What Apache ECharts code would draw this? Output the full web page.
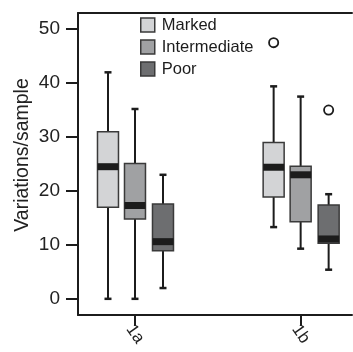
<!DOCTYPE html>
<html>
<head>
<meta charset="utf-8">
<script src="https://cdn.jsdelivr.net/npm/echarts@6/dist/echarts.min.js"></script>
<style>html,body{margin:0;padding:0;background:#fff}#c{width:353px;height:352px}</style>
</head>
<body>
<div id="c"></div>
<script>
const categories = ['1a', '1b'];
const groupNames = ['Marked', 'Intermediate', 'Poor'];
// [min, Q1, median, Q3, max] per category
const markedStats = [[0, 17, 24.5, 31, 42], [13.3, 18.9, 24.4, 29, 39.4]];
const intermediateStats = [[0, 14.8, 17.3, 25.1, 35.2], [9.3, 14.3, 23, 24.6, 37.5]];
const poorStats = [[2, 8.9, 10.6, 17.6, 23], [5.4, 10.3, 11.1, 17.4, 19.4]];
// outliers (category position 1 = '1a', 2 = '1b')
const outlierCategory = [2, 2];
const outlierGroup = [0, 2];
const outlierValue = [47.5, 35];
const yTicks = [0, 10, 20, 30, 40, 50];

const FONT = '"Liberation Sans", Arial, Helvetica, sans-serif';
const fills = ['#d3d4d6', '#a0a1a3', '#6d6e70'];
const groupOffsets = [-27, 0, 28];
const BOX_W = 21;
const INK = '#1c1c1c';

const allStats = [markedStats, intermediateStats, poorStats];

function makeBoxSeries(gi) {
  const data = allStats[gi].map((s, ci) => [ci + 1].concat(s));
  return {
    type: 'custom',
    name: groupNames[gi],
    data: data,
    encode: { x: 0, y: [1, 2, 3, 4, 5] },
    itemStyle: { color: fills[gi] },
    renderItem: function (params, api) {
      const xv = api.value(0);
      const pLo = api.coord([xv, api.value(1)]);
      const yQ1 = api.coord([xv, api.value(2)])[1];
      const yMed = api.coord([xv, api.value(3)])[1];
      const yQ3 = api.coord([xv, api.value(4)])[1];
      const yHi = api.coord([xv, api.value(5)])[1];
      const cx = pLo[0] + groupOffsets[gi];
      const yLo = pLo[1];
      const capW = 7;
      return {
        type: 'group',
        children: [
          { type: 'line', shape: { x1: cx, y1: yHi, x2: cx, y2: yLo }, style: { stroke: INK, lineWidth: 2 } },
          { type: 'line', shape: { x1: cx - capW / 2, y1: yHi, x2: cx + capW / 2, y2: yHi }, style: { stroke: INK, lineWidth: 2.5 } },
          { type: 'line', shape: { x1: cx - capW / 2, y1: yLo, x2: cx + capW / 2, y2: yLo }, style: { stroke: INK, lineWidth: 2.5 } },
          { type: 'rect', shape: { x: cx - BOX_W / 2, y: yQ3, width: BOX_W, height: yQ1 - yQ3 },
            style: { fill: fills[gi], stroke: '#3a3a3a', lineWidth: 1.5 } },
          { type: 'rect', shape: { x: cx - BOX_W / 2, y: yMed - 3.5, width: BOX_W, height: 7 },
            style: { fill: INK } }
        ]
      };
    }
  };
}

const outlierData = outlierValue.map((v, i) => [outlierCategory[i], v, outlierGroup[i]]);

const option = {
  animation: false,
  backgroundColor: '#fff',
  textStyle: { fontFamily: FONT },
  grid: { left: 78, right: 1, top: 13, bottom: 37 },
  legend: {
    orient: 'vertical',
    left: 140,
    top: 16.5,
    padding: 0,
    itemWidth: 14,
    itemHeight: 14,
    itemGap: 5,
    icon: 'rect',
    textStyle: { fontFamily: FONT, fontSize: 16.5, color: '#1c1c1c', lineHeight: 14, height: 14, padding: [0, 0, 0, 2] },
    data: groupNames.map((n, i) => ({
      name: n,
      itemStyle: { color: fills[i], borderColor: '#3a3a3a', borderWidth: 1.5 }
    }))
  },
  xAxis: [
    {
      type: 'value',
      min: 0.656,
      max: 2.31,
      position: 'bottom',
      splitLine: { show: false },
      axisLine: { show: true, onZero: false, lineStyle: { color: INK, width: 2 } },
      axisTick: { show: true, customValues: [1, 2], length: 11, lineStyle: { color: INK, width: 2 } },
      axisLabel: {
        show: true,
        customValues: [1, 2],
        formatter: v => categories[Math.round(v) - 1] || '',
        rotate: -55,
        align: 'center',
        verticalAlign: 'middle',
        fontSize: 17,
        color: '#222',
        margin: 19,
        fontFamily: FONT
      }
    },
    {
      type: 'value',
      min: 0.656,
      max: 2.31,
      position: 'top',
      splitLine: { show: false },
      axisLine: { show: true, onZero: false, lineStyle: { color: INK, width: 2 } },
      axisTick: { show: false },
      axisLabel: { show: false }
    }
  ],
  yAxis: {
    type: 'value',
    min: -3,
    max: 53,
    splitLine: { show: false },
    axisLine: { show: true, onZero: false, lineStyle: { color: INK, width: 2 } },
    axisTick: { show: true, customValues: yTicks, length: 12, lineStyle: { color: INK, width: 2 } },
    axisLabel: { show: true, customValues: yTicks, fontSize: 19, color: '#222', margin: 18, fontFamily: FONT }
  },
  graphic: [
    {
      type: 'text',
      x: 23,
      y: 155,
      rotation: Math.PI / 2,
      style: {
        text: 'Variations/sample',
        fontSize: 19.5,
        fontFamily: FONT,
        fill: '#222',
        align: 'center',
        verticalAlign: 'middle'
      }
    }
  ],
  series: [
    makeBoxSeries(0),
    makeBoxSeries(1),
    makeBoxSeries(2),
    {
      type: 'custom',
      name: 'outliers',
      data: outlierData,
      encode: { x: 0, y: 1 },
      renderItem: function (params, api) {
        const p = api.coord([api.value(0), api.value(1)]);
        const cx = p[0] + groupOffsets[api.value(2)];
        return { type: 'circle', shape: { cx: cx, cy: p[1], r: 4.6 },
          style: { fill: '#fff', stroke: INK, lineWidth: 1.8 } };
      }
    }
  ]
};

const chart = echarts.init(document.getElementById('c'), null, { renderer: 'canvas' });
chart.setOption(option);
</script>
</body>
</html>
